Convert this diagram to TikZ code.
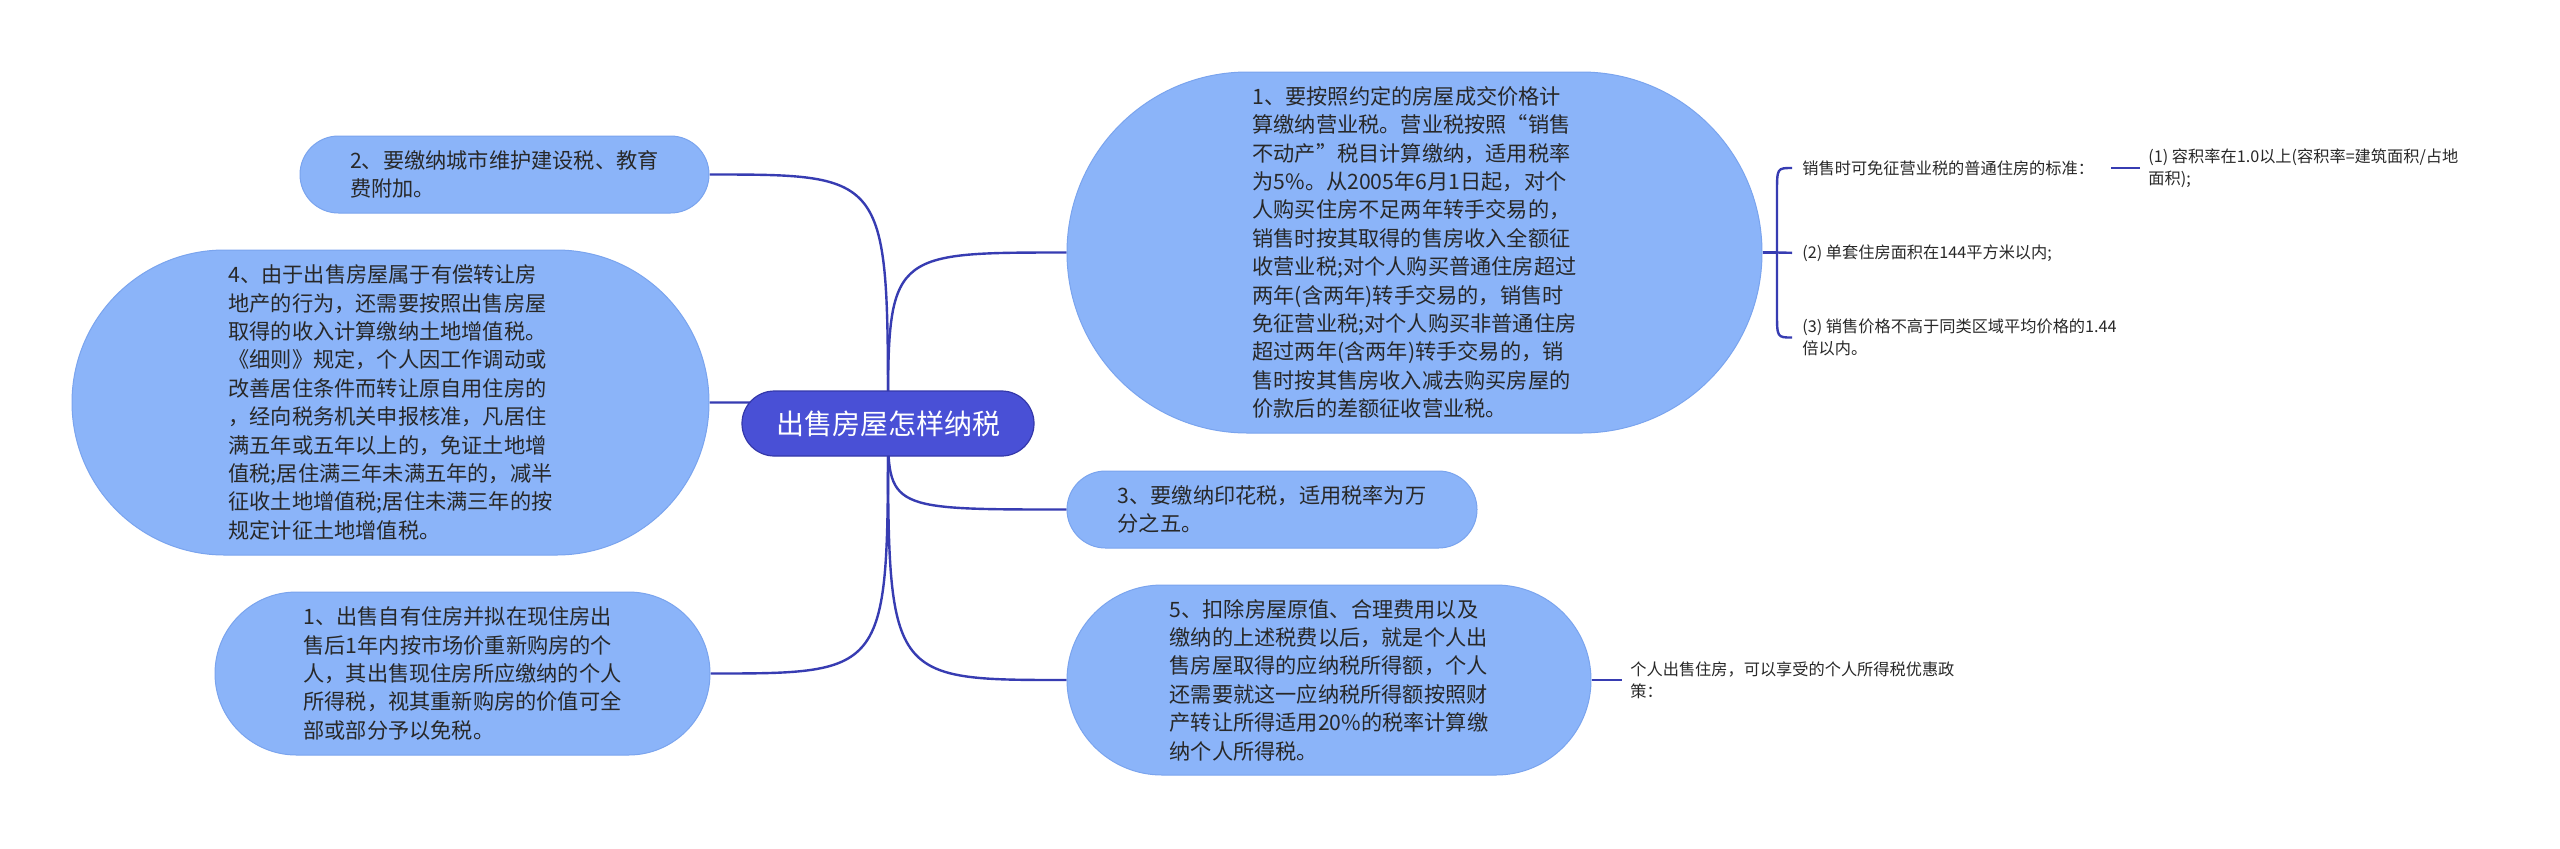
\documentclass[tikz,border=0pt]{standalone}
\usepackage{fontspec}
\setmainfont{Noto Sans CJK SC}
\usetikzlibrary{shapes.misc,calc}
\definecolor{bluefill}{RGB}{139,180,249}
\definecolor{blueedge}{RGB}{122,164,238}
\definecolor{rootfill}{RGB}{73,80,214}
\definecolor{rootedge}{RGB}{52,56,170}
\definecolor{linkcol}{RGB}{55,60,178}
\definecolor{txtcol}{RGB}{40,40,40}
\pgfdeclarelayer{bg}
\pgfdeclarelayer{paper}
\pgfsetlayers{paper,bg,main}
\begin{document}
\begin{tikzpicture}[x=0.5pt,y=-0.5pt,
  topic/.style={rounded rectangle, fill=bluefill, draw=blueedge, line width=0.5pt, inner sep=0pt, text=txtcol, align=left, font=\fontsize{10.6pt}{14.2pt}\selectfont},
  rootnode/.style={rounded rectangle, fill=rootfill, draw=rootedge, line width=0.6pt, inner sep=0pt, text=white, font=\fontsize{14pt}{16pt}\selectfont, minimum width=146pt, minimum height=32.5pt},
  leaf/.style={anchor=west, inner sep=0pt, text=txtcol, align=left, font=\fontsize{8.1pt}{10.8pt}\selectfont},
  conn/.style={draw=linkcol, line width=1.2pt},
]
\begin{pgfonlayer}{paper}
\fill[white] (0,0) rectangle (2560,848);
\end{pgfonlayer}
\useasboundingbox (0,0) rectangle (2560,848);

\node[rootnode] (root) at (888,423.5) {出售房屋怎样纳税};

\node[topic, minimum width=347.5pt, minimum height=180.5pt] (n1) at (1414.5,252.5) {1、要按照约定的房屋成交价格计\\算缴纳营业税。营业税按照“销售\\不动产”税目计算缴纳，适用税率\\为5\%。从2005年6月1日起，对个\\人购买住房不足两年转手交易的，\\销售时按其取得的售房收入全额征\\收营业税;对个人购买普通住房超过\\两年(含两年)转手交易的，销售时\\免征营业税;对个人购买非普通住房\\超过两年(含两年)转手交易的，销\\售时按其售房收入减去购买房屋的\\价款后的差额征收营业税。};

\node[topic, minimum width=204.5pt, minimum height=38.5pt] (n2) at (504.5,174.5) {2、要缴纳城市维护建设税、教育\\费附加。};

\node[topic, minimum width=318.5pt, minimum height=152.5pt] (n4) at (390.5,402.5) {4、由于出售房屋属于有偿转让房\\地产的行为，还需要按照出售房屋\\取得的收入计算缴纳土地增值税。\\《细则》规定，个人因工作调动或\\改善居住条件而转让原自用住房的\\，经向税务机关申报核准，凡居住\\满五年或五年以上的，免证土地增\\值税;居住满三年未满五年的，减半\\征收土地增值税;居住未满三年的按\\规定计征土地增值税。};

\node[topic, minimum width=247.5pt, minimum height=81.5pt] (n1b) at (462.5,673.5) {1、出售自有住房并拟在现住房出\\售后1年内按市场价重新购房的个\\人，其出售现住房所应缴纳的个人\\所得税，视其重新购房的价值可全\\部或部分予以免税。};

\node[topic, minimum width=205pt, minimum height=38.5pt] (n3) at (1272,509.5) {3、要缴纳印花税，适用税率为万\\分之五。};

\node[topic, minimum width=262pt, minimum height=95pt] (n5) at (1329,680) {5、扣除房屋原值、合理费用以及\\缴纳的上述税费以后，就是个人出\\售房屋取得的应纳税所得额，个人\\还需要就这一应纳税所得额按照财\\产转让所得适用20\%的税率计算缴\\纳个人所得税。};

\node[leaf] (l1) at (1802,168) {销售时可免征营业税的普通住房的标准：};
\node[leaf] (l2) at (1802,253) {(2) 单套住房面积在144平方米以内;};
\node[leaf] (l3) at (1802,337.5) {(3) 销售价格不高于同类区域平均价格的1.44\\倍以内。};
\node[leaf] (l1a) at (2148,168) {(1) 容积率在1.0以上(容积率=建筑面积/占地\\面积);};
\node[leaf] (l5) at (1630,680) {个人出售住房，可以享受的个人所得税优惠政\\策：};

\coordinate (bx) at (1777,252.5);

\begin{pgfonlayer}{bg}
\draw[conn] (root.center) .. controls (root.center |- n1.west) .. (n1.west);
\draw[conn] (root.center) .. controls (root.center |- n2.east) .. (n2.east);
\draw[conn] (root.center) .. controls (root.center |- n4.east) .. (n4.east);
\draw[conn] (root.center) .. controls (root.center |- n1b.east) .. (n1b.east);
\draw[conn] (root.center) .. controls (root.center |- n3.west) .. (n3.west);
\draw[conn] (root.center) .. controls (root.center |- n5.west) .. (n5.west);
\end{pgfonlayer}

\draw[conn] (n1.east) -- (bx);
\draw[conn] ($(l1.west)+(-10,0)$) .. controls (bx |- l1.west) .. ($(bx |- l1.west)+(0,25)$) -- ($(bx |- l3.west)+(0,-25)$) .. controls (bx |- l3.west) .. ($(l3.west)+(-10,0)$);
\draw[conn, shorten >=5pt] (bx) -- (l2.west);
\draw[conn, shorten <=8.5pt, shorten >=4pt] (l1.east) -- (l1a.west);
\draw[conn, shorten >=4pt] (n5.east) -- (l5.west);
\end{tikzpicture}
\end{document}
